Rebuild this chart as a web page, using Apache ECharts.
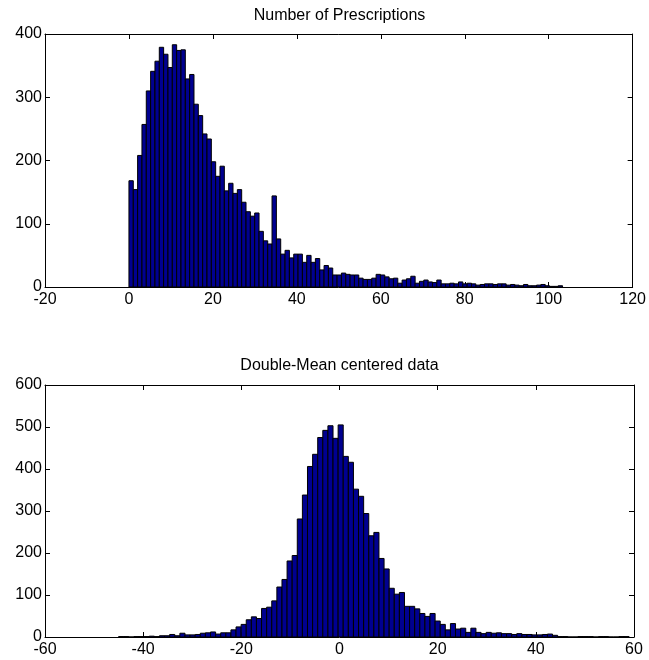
<!DOCTYPE html>
<html>
<head>
<meta charset="utf-8">
<script src="https://cdn.jsdelivr.net/npm/echarts@6/dist/echarts.min.js"></script>
<style>html,body{margin:0;padding:0;background:#fff}#c{width:649px;height:660px}</style>
</head>
<body>
<div id="c"></div>
<script>
// Top histogram: Number of Prescriptions
const topTitle = 'Number of Prescriptions';
const topBinStart = 0;
const topBinWidth = 1.033;
const topCounts = [168,154,208,257,310,341,357,379,368,347,383,374,375,329,336,289,271,242,234,198,
  175,191,152,164,148,154,134,119,112,117,88,73,68,144,76,52,58,46,52,52,
  39,50,39,45,27,34,30,19,19,22,20,19,19,14,12,12,14,20,
  19,16,13,14,6,11,13,17,6,9,11,8,7,11,5,5,6,5,8,5,6,5,3,4,5,5,4,5,5,3,4,3,2,4,2,2,3,4,2,1,1,2];
const topXTicks = [-20, 120, 20];   // min, max, interval
const topYTicks = [0, 400, 100];

// Bottom histogram: Double-Mean centered data
const botTitle = 'Double-Mean centered data';
const botBinStart = -45;
const botBinWidth = 1.04;
const botCounts = [1,1,0,1,1,1,2,1,3,3,6,3,9,5,5,6,9,10,12,7,
  10,10,17,24,30,41,48,44,68,71,86,119,137,181,194,281,338,406,435,475,492,503,473,505,430,
  416,352,335,294,241,249,187,162,116,102,106,73,73,67,56,49,56,38,30,17,32,19,21,11,21,11,8,11,
  9,10,8,8,6,8,6,6,5,5,6,7,4,
  1,1,0,0,1,1,1,0,1,1,0,0,1,1];
const botXTicks = [-60, 60, 20];
const botYTicks = [0, 600, 100];

function bins(start, width, counts) {
  return counts.map((c, i) => [start + i * width, start + (i + 1) * width, c]);
}

const FONT = 'Liberation Sans, Arial, sans-serif';
const axisLine = { show: true, onZero: false, lineStyle: { color: '#000', width: 1 } };
const tick = { show: true, inside: true, length: 5, lineStyle: { color: '#000' } };

function xAxes(grid, t) {
  return [
    { type: 'value', gridIndex: grid, position: 'bottom', min: t[0], max: t[1], interval: t[2],
      axisLine, axisTick: tick, splitLine: { show: false },
      axisLabel: { color: '#000', fontSize: 16, fontFamily: FONT, margin: 5 } },
    { type: 'value', gridIndex: grid, position: 'top', min: t[0], max: t[1], interval: t[2],
      axisLine, axisTick: tick, splitLine: { show: false }, axisLabel: { show: false } }
  ];
}
function yAxes(grid, t) {
  return [
    { type: 'value', gridIndex: grid, position: 'left', min: t[0], max: t[1], interval: t[2],
      axisLine, axisTick: tick, splitLine: { show: false },
      axisLabel: { color: '#000', fontSize: 16, fontFamily: FONT, margin: 3 } },
    { type: 'value', gridIndex: grid, position: 'right', min: t[0], max: t[1], interval: t[2],
      axisLine, axisTick: tick, splitLine: { show: false }, axisLabel: { show: false } }
  ];
}

function renderBar(params, api) {
  const p0 = api.coord([api.value(0), api.value(2)]);
  const p1 = api.coord([api.value(1), 0]);
  return {
    type: 'rect',
    shape: { x: p0[0], y: p0[1], width: p1[0] - p0[0], height: p1[1] - p0[1] },
    style: { fill: '#000090', stroke: '#000', lineWidth: 1 }
  };
}

const chart = echarts.init(document.getElementById('c'), null, { renderer: 'canvas' });
chart.setOption({
  animation: false,
  backgroundColor: '#fff',
  grid: [
    { left: 45, right: 15, top: 34, height: 253 },
    { left: 45, right: 15, top: 385, height: 252 }
  ],
  xAxis: [...xAxes(0, topXTicks), ...xAxes(1, botXTicks)],
  yAxis: [...yAxes(0, topYTicks), ...yAxes(1, botYTicks)],
  graphic: [
    { type: 'text', x: 339.5, y: 16, style: { text: topTitle, fontSize: 16, fontFamily: FONT, fill: '#000', textAlign: 'center', textVerticalAlign: 'middle' } },
    { type: 'text', x: 339.5, y: 366, style: { text: botTitle, fontSize: 16, fontFamily: FONT, fill: '#000', textAlign: 'center', textVerticalAlign: 'middle' } }
  ],
  series: [
    { type: 'custom', xAxisIndex: 0, yAxisIndex: 0, renderItem: renderBar, clip: true,
      encode: { x: [0, 1], y: 2 }, data: bins(topBinStart, topBinWidth, topCounts) },
    { type: 'custom', xAxisIndex: 2, yAxisIndex: 2, renderItem: renderBar, clip: true,
      encode: { x: [0, 1], y: 2 }, data: bins(botBinStart, botBinWidth, botCounts) }
  ]
});
</script>
</body>
</html>
